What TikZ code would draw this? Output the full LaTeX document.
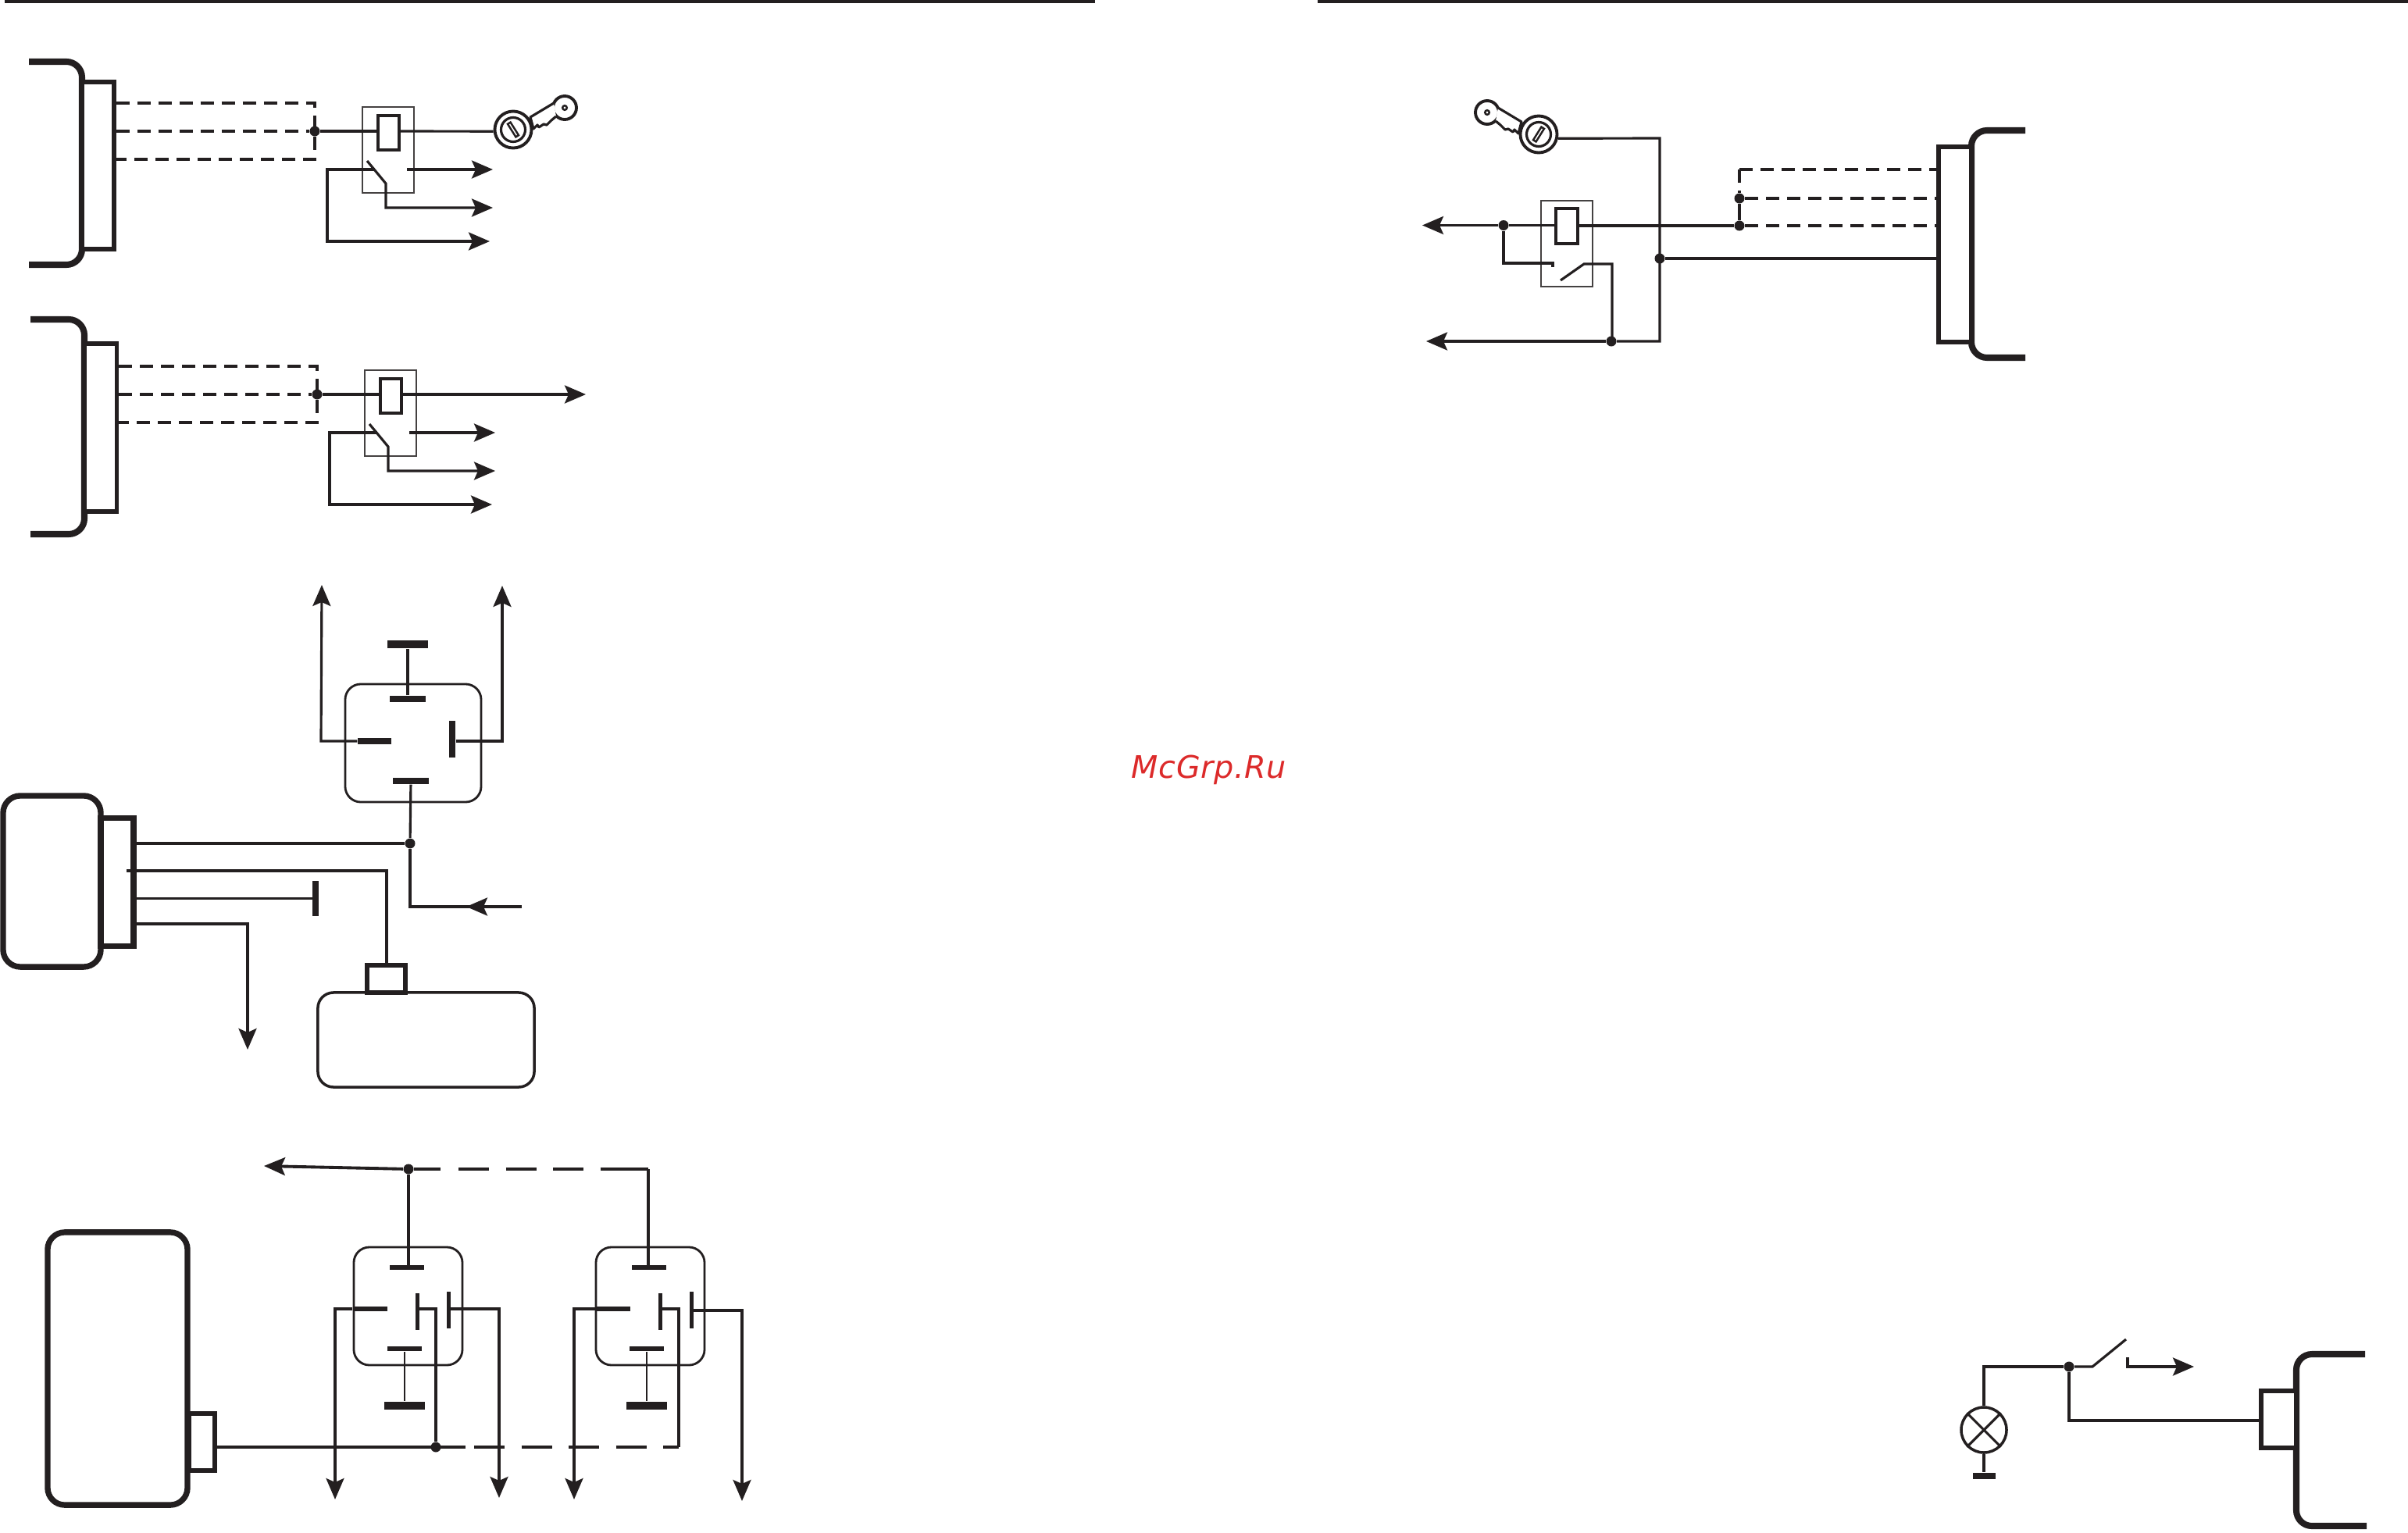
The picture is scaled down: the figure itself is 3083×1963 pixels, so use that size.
\documentclass[tikz,border=0pt]{standalone}
\usepackage{fontspec}
\usetikzlibrary{arrows.meta}
\newfontfamily\markfont[LetterSpace=1.6]{DejaVu Sans}
\definecolor{wirecol}{HTML}{231F20}
\definecolor{markcol}{HTML}{DC2A2A}
\tikzset{
  keylock/.pic={
    \draw[wirecol,line width=1.1pt,fill=white] (66,-28) circle[radius=15];
    \draw[wirecol,line width=.7pt,fill=white] (66,-28) circle[radius=2.8];
    \draw[wirecol,line width=.9pt,line join=round,fill=white] (52,-34) -- (47,-31) -- (22,-16) -- (26,-1) -- (31,-6) -- (33,-3) -- (39,-7) -- (43,-6) -- (49,-12) -- (55,-17);
    \node[circle,draw=wirecol,line width=1.1pt,fill=white,inner sep=0pt,minimum size=.47cm] (-outer) at (0,0) {};
    \draw[wirecol,line width=.9pt] (0,0) circle[radius=15.5];
    \draw[wirecol,line width=.7pt] (-3.4,-9.4) -- (7,7.2) -- (3.4,9.4) -- (-7,-7.2) -- cycle;
  }
}
\begin{document}
\begin{tikzpicture}[x=.01cm,y=-.01cm,>={Stealth[length=.27cm,width=.23cm,inset=.05cm]}]

  \tikzstyle{wire}=[draw=wirecol,line width=.9pt]
  \tikzstyle{dash wire}=[wire,dash pattern=on .17cm off .1cm]
  \tikzstyle{long dash}=[wire,line width=1.1pt,dash pattern=on .39cm off .215cm]
  \tikzstyle{shell}=[draw=wirecol,line width=2.3pt,rounded corners=.2cm]
  \tikzstyle{plug}=[rectangle,draw=wirecol,line width=1.5pt,fill=white,inner sep=0pt]
  \tikzstyle{module}=[rectangle,draw=wirecol,line width=2.1pt,rounded corners=.22cm,inner sep=0pt]
  \tikzstyle{relay box}=[rectangle,draw=wirecol!85,line width=.55pt,inner sep=0pt,minimum width=.66cm,minimum height=1.1cm]
  \tikzstyle{coil}=[rectangle,draw=wirecol,line width=1pt,inner sep=0pt,minimum width=.27cm,minimum height=.44cm]
  \tikzstyle{relay}=[rectangle,draw=wirecol,line width=.8pt,rounded corners=.2cm,inner sep=0pt]
  \tikzstyle{pin}=[rectangle,fill=wirecol,inner sep=0pt,minimum width=.44cm,minimum height=.06cm]
  \tikzstyle{vpin}=[rectangle,fill=wirecol,inner sep=0pt,minimum width=.05cm,minimum height=.47cm]
  \tikzstyle{mass}=[rectangle,fill=wirecol,inner sep=0pt,minimum width=.51cm,minimum height=.1cm]
  \tikzstyle{dot}=[circle,fill=wirecol,inner sep=0pt,minimum size=.13cm]

  \useasboundingbox (0,0) rectangle (3083,1963);

  \coordinate (ra) at (6,2);
  \coordinate (rb) at (1402,2);
  \coordinate (rc) at (1687,2);
  \coordinate (rd) at (3083,2);
  \draw[wirecol,line width=1.2pt] (ra) -- (rb);
  \draw[wirecol,line width=1.2pt] (rc) -- (rd);

  \node[anchor=base west,text=markcol,inner sep=0pt,font=\markfont\itshape\fontsize{11.3}{12}\selectfont] (mark) at (1448,996) {McGrp.Ru};

\begin{scope}
  \draw[shell] (37,79) -- (105,79) -- (105,339) -- (37,339);
  \node[plug,minimum width=.41cm,minimum height=2.14cm] (p1) at (125.5,212) {};
  \node[relay box] (b1) at (497,192) {};
  \node[coil] (c1) at (497.5,170) {};
  \node[dot] (j1) at (403,168) {};
  \pic (lk1) at (657,166) {keylock};
  \coordinate (d1) at (403,132);
  \coordinate (d3) at (403,204);
  \coordinate (s1) at (470,206);
  \coordinate (h1) at (494,235);
  \coordinate (o1) at (631,266);
  \coordinate (m1) at (480,217);
  \coordinate (l1) at (419,217);
  \coordinate (e1) at (627,309);
  \coordinate (n1) at (521,217);
  \coordinate (f1) at (631,217);
  \draw[dash wire] (p1.east |- d1) -- (d1) -- (d3) -- (p1.east |- d3);
  \draw[dash wire] (p1.east |- j1) -- (j1);
  \draw[wire] (j1) -- (j1 -| c1.west);
  \draw[wire] (c1.east |- j1) -- (lk1-outer.185);
  \draw[wire,->] (s1) -- (h1) -- (h1 |- o1) -- (o1);
  \draw[wire,->] (m1) -- (l1) -- (l1 |- e1) -- (e1);
  \draw[wire,->] (n1) -- (f1);
\end{scope}

\begin{scope}
  \draw[shell] (39,409) -- (108,409) -- (108,684) -- (39,684);
  \node[plug,minimum width=.41cm,minimum height=2.15cm] (p2) at (129,547.5) {};
  \node[relay box] (b2) at (500,529) {};
  \node[coil] (c2) at (500.5,507) {};
  \node[dot] (j2) at (406,505) {};
  \coordinate (d4) at (406,469);
  \coordinate (d6) at (406,541);
  \coordinate (s2) at (473,543);
  \coordinate (h2) at (497,572);
  \coordinate (o2) at (634,603);
  \coordinate (m2) at (483,554);
  \coordinate (l2) at (422,554);
  \coordinate (e2) at (630,646);
  \coordinate (n2) at (524,554);
  \coordinate (f2) at (634,554);
  \coordinate (t2) at (750,505);
  \draw[dash wire] (p2.east |- d4) -- (d4) -- (d6) -- (p2.east |- d6);
  \draw[dash wire] (p2.east |- j2) -- (j2);
  \draw[wire] (j2) -- (j2 -| c2.west);
  \draw[wire,->] (c2.east |- j2) -- (t2);
  \draw[wire,->] (s2) -- (h2) -- (h2 |- o2) -- (o2);
  \draw[wire,->] (m2) -- (l2) -- (l2 |- e2) -- (e2);
  \draw[wire,->] (n2) -- (f2);
\end{scope}

\begin{scope}
  \node[module,minimum width=1.25cm,minimum height=2.19cm] (m3) at (66.5,1128.5) {};
  \node[plug,line width=2pt,minimum width=.42cm,minimum height=1.63cm] (p3) at (150,1129.5) {};
  \node[relay,minimum width=1.74cm,minimum height=1.51cm] (r3) at (529,951.5) {};
  \node[mass] (g3) at (522,825) {};
  \node[pin,minimum width=.46cm,minimum height=.08cm] (q1) at (522,895) {};
  \node[pin,minimum width=.43cm,minimum height=.08cm] (q2) at (479.5,949) {};
  \node[vpin,minimum width=.08cm] (q3) at (579,946.5) {};
  \node[pin,minimum width=.46cm,minimum height=.08cm] (q4) at (526,1000) {};
  \node[dot] (j3) at (525,1080) {};
  \node[vpin,minimum width=.075cm,minimum height=.45cm] (q5) at (404,1150.5) {};
  \node[rectangle,draw=wirecol,line width=1.6pt,fill=white,inner sep=0pt,minimum width=.49cm,minimum height=.35cm] (u3) at (494.5,1253.5) {};
  \node[relay,line width=1pt,minimum width=2.77cm,minimum height=1.21cm] (v3) at (545.5,1331.5) {};
  \coordinate (a3) at (411,949);
  \coordinate (a4) at (412,749);
  \coordinate (b3) at (643,949);
  \coordinate (b4) at (643,750);
  \coordinate (x1) at (162,1115);
  \coordinate (x2) at (495,1115);
  \coordinate (x3) at (525,1161);
  \coordinate (x4) at (668,1161);
  \coordinate (x5) at (597,1161);
  \coordinate (x6) at (317,1183);
  \coordinate (x7) at (317,1344);
  \draw[wire] (q1) -- (g3);
  \draw[wire,->] (q2.west) -- (a3) -- (a4);
  \draw[wire,->] (q3.east |- b3) -- (b3) -- (b4);
  \draw[wire] (q4) -- (j3);
  \draw[wire] (j3) -- (x3) -- (x4);
  \draw[wire,->] (x4) -- (x5);
  \draw[wire] (p3.east |- j3) -- (j3);
  \draw[wire] (x1) -- (x2) -- (x2 |- u3.north);
  \draw[wire] (p3.east |- q5) -- (q5);
  \draw[wire,->] (p3.east |- x6) -- (x6) -- (x7);
\end{scope}

\begin{scope}
  \node[module,minimum width=1.79cm,minimum height=3.49cm] (m4) at (150.5,1752.5) {};
  \node[plug,minimum width=.33cm,minimum height=.73cm] (p4) at (258.5,1846.5) {};
  \node[dot] (j4) at (558,1853) {};
  \node[dot] (j5) at (523,1497) {};
  \node[relay,minimum width=1.39cm,minimum height=1.51cm] (r4) at (522.5,1672.5) {};
  \node[pin] (e1a) at (521,1623) {};
  \node[pin] (e1b) at (474,1676) {};
  \node[vpin] (e1c) at (534,1679.5) {};
  \node[vpin] (e1d) at (574,1677.5) {};
  \node[pin] (e1e) at (518,1727) {};
  \node[mass] (e1f) at (518,1800) {};
  \node[relay,minimum width=1.39cm,minimum height=1.51cm] (r5) at (832.5,1672.5) {};
  \node[pin] (e2a) at (831,1623) {};
  \node[pin] (e2b) at (785,1676) {};
  \node[vpin] (e2c) at (845,1679.5) {};
  \node[vpin] (e2d) at (885,1677.5) {};
  \node[pin] (e2e) at (828,1727) {};
  \node[mass] (e2f) at (828,1800) {};
  \coordinate (w1) at (338,1493);
  \coordinate (w2) at (564,1497);
  \coordinate (w2b) at (587,1497);
  \coordinate (w3) at (770,1497);
  \coordinate (w4) at (830,1497);
  \coordinate (y1) at (596,1853);
  \coordinate (y1b) at (607,1853);
  \coordinate (y2) at (869,1853);
  \coordinate (y3) at (869,1676);
  \coordinate (g1) at (429,1676);
  \coordinate (g2) at (429,1920);
  \coordinate (g3) at (639,1676);
  \coordinate (g4) at (639,1918);
  \coordinate (g5) at (735,1676);
  \coordinate (g6) at (735,1920);
  \coordinate (g7) at (950,1678);
  \coordinate (g8) at (950,1922);
  \coordinate (g9) at (558,1676);
  \draw[wire,line width=1.1pt,->] (j5) -- (w1);
  \draw[wire,line width=1.1pt] (j5) -- (w2);
  \draw[long dash] (w2b) -- (w3);
  \draw[wire,line width=1.1pt] (w3) -- (w4);
  \draw[wire] (w4) -- (w4 |- e2a);
  \draw[wire] (j5) -- (j5 |- e1a);
  \draw[wire,line width=1.1pt] (p4.east |- j4) -- (y1);
  \draw[long dash] (y1b) -- (y2);
  \draw[wire] (y2) -- (y3) -- (e2c.east |- y3);
  \draw[wire] (j4) -- (g9) -- (e1c.east |- g9);
  \draw[wire,->] (e1b.west) -- (g1) -- (g2);
  \draw[wire,->] (e1d.east |- g3) -- (g3) -- (g4);
  \draw[wire,->] (e2b.west) -- (g5) -- (g6);
  \draw[wire,->] (e2d.east |- g7) -- (g7) -- (g8);
  \draw[wire,line width=.7pt] (e1e) -- (e1f);
  \draw[wire,line width=.7pt] (e2e) -- (e2f);
\end{scope}

\begin{scope}
  \draw[shell] (2593,167) -- (2524,167) -- (2524,458) -- (2593,458);
  \node[plug,minimum width=.42cm,minimum height=2.5cm] (p5) at (2503,313) {};
  \node[relay box,minimum height=1.1cm] (b5) at (2006,312) {};
  \node[coil,minimum width=.28cm,minimum height=.45cm] (c5) at (2006,289.5) {};
  \node[dot] (j6) at (2227,254) {};
  \node[dot] (j7) at (2227,289) {};
  \node[dot] (j8) at (1925,288.5) {};
  \node[dot] (j9) at (2125,331) {};
  \node[dot] (j10) at (2063,437) {};
  \pic[xscale=-1] (lk2) at (1970,172) {keylock};
  \coordinate (d7) at (2227,217);
  \coordinate (k1) at (2125,177);
  \coordinate (k2) at (2125,437);
  \coordinate (k3) at (1826,437);
  \coordinate (k4) at (1821,288.5);
  \coordinate (k5) at (1925,337);
  \coordinate (k6) at (1988,337);
  \coordinate (k7) at (1988,342);
  \coordinate (k8) at (1998,359);
  \coordinate (k9) at (2028,338);
  \coordinate (k10) at (2064,338);
  \draw[dash wire] (d7) -- (p5.west |- d7);
  \draw[dash wire] (d7) -- (j6);
  \draw[wire] (j6) -- (j7);
  \draw[dash wire] (j6) -- (p5.west |- j6);
  \draw[dash wire] (j7) -- (p5.west |- j7);
  \draw[wire] (j7) -- (j7 -| c5.east);
  \draw[wire] (c5.west |- j8) -- (j8);
  \draw[wire,->] (j8) -- (k4);
  \draw[wire] (j8) -- (k5) -- (k6) -- (k7);
  \draw[wire] (k8) -- (k9) -- (k10) -- (k10 |- j10);
  \draw[wire] (lk2-outer.-12) -- (k1) -- (k2) -- (j10);
  \draw[wire,->] (j10) -- (k3);
  \draw[wire] (j9) -- (j9 -| p5.west);
\end{scope}

\begin{scope}
  \draw[shell] (3028,1734) -- (2940,1734) -- (2940,1954) -- (3030,1954);
  \node[plug,minimum width=.45cm,minimum height=.73cm] (p6) at (2917.5,1817.5) {};
  \node[dot] (j11) at (2649,1750) {};
  \node[circle,draw=wirecol,line width=1pt,inner sep=0pt,minimum size=.58cm] (lamp) at (2540,1831) {};
  \node[mass,minimum width=.29cm,minimum height=.08cm] (g6) at (2540,1890) {};
  \coordinate (z1) at (2649,1819);
  \coordinate (z2) at (2540,1750);
  \coordinate (z3) at (2679,1750);
  \coordinate (z4) at (2722,1715);
  \coordinate (z5) at (2724,1738);
  \coordinate (z6) at (2724,1750);
  \coordinate (z7) at (2809,1750);
  \draw[wire] (p6.west |- z1) -- (z1) -- (j11);
  \draw[wire] (j11) -- (z2) -- (lamp.north);
  \draw[wire] (j11) -- (z3) -- (z4);
  \draw[wire,->] (z5) -- (z6) -- (z7);
  \draw[wire] (lamp.45) -- (lamp.225);
  \draw[wire] (lamp.135) -- (lamp.-45);
  \draw[wire] (lamp.south) -- (g6);
\end{scope}

\end{tikzpicture}
\end{document}
